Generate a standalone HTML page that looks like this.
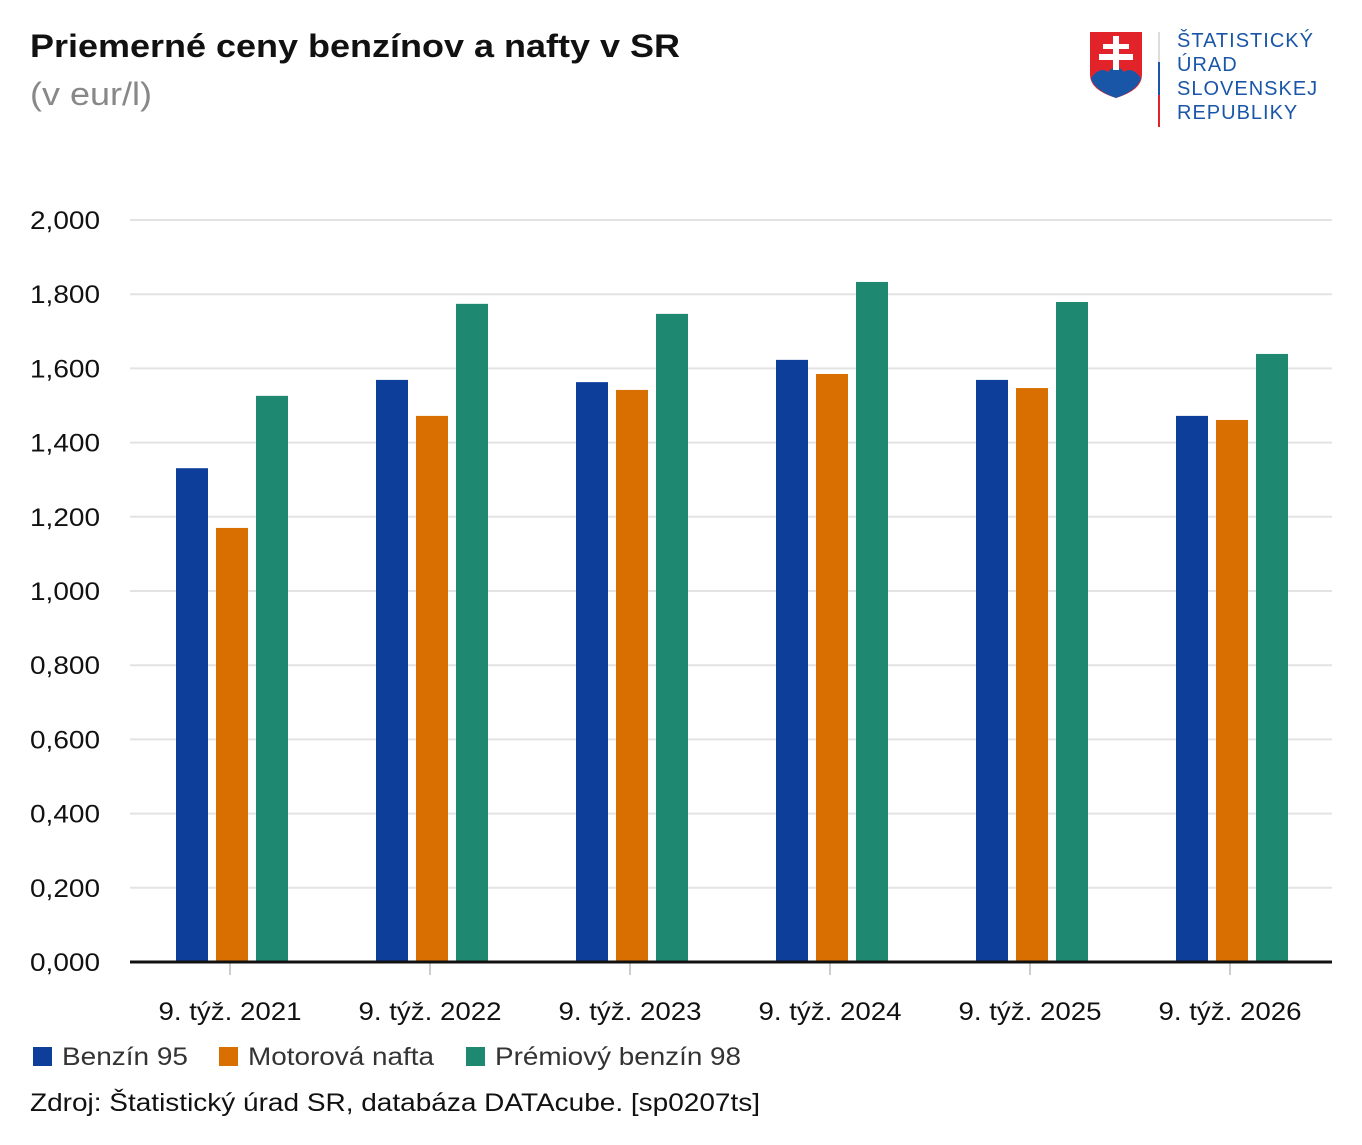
<!DOCTYPE html>
<html><head><meta charset="utf-8"><style>
body{margin:0;width:1362px;height:1140px;background:#fff;font-family:"Liberation Sans",sans-serif;overflow:hidden}
</style></head><body>
<svg width="1362" height="1140" xmlns="http://www.w3.org/2000/svg" font-family="Liberation Sans, sans-serif">
<text x="30" y="57" font-size="32" font-weight="bold" fill="#111" textLength="650" lengthAdjust="spacingAndGlyphs">Priemerné ceny benzínov a nafty v SR</text>
<text x="30" y="105" font-size="32" fill="#888" textLength="122" lengthAdjust="spacingAndGlyphs">(v eur/l)</text>
<g>
<path d="M1090 32 H1142 V75 Q1142 90 1116 98 Q1090 90 1090 75 Z" fill="#e2232a"/>
<path d="M1091 78 Q1100 66 1108 72 Q1116 62 1124 72 Q1132 66 1141 78 Q1138 90 1116 98 Q1094 90 1091 78 Z" fill="#1a56a8"/>
<rect x="1113" y="36" width="6" height="34" fill="#fff"/>
<rect x="1103" y="44" width="26" height="5" fill="#fff"/>
<rect x="1099" y="54" width="34" height="6" fill="#fff"/>
<rect x="1158" y="32" width="2" height="30" fill="#ddd"/>
<rect x="1158" y="62" width="2" height="33" fill="#1a56a8"/>
<rect x="1158" y="95" width="2" height="32" fill="#e2232a"/>
<g font-size="20" fill="#1a56a8" letter-spacing="1">
<text x="1177" y="47">ŠTATISTICKÝ</text><text x="1177" y="71">ÚRAD</text>
<text x="1177" y="95">SLOVENSKEJ</text><text x="1177" y="119">REPUBLIKY</text></g>
</g>
<g id="grid"></g><g id="bars"></g><g id="axis"></g>
<g font-size="25" fill="#333">
<rect x="33" y="1047" width="19" height="19" fill="#0d3f9a"/><text x="62" y="1065" textLength="126" lengthAdjust="spacingAndGlyphs">Benzín 95</text>
<rect x="219" y="1047" width="19" height="19" fill="#d96f00"/><text x="248" y="1065" textLength="186" lengthAdjust="spacingAndGlyphs">Motorová nafta</text>
<rect x="466" y="1047" width="19" height="19" fill="#1e8870"/><text x="495" y="1065" textLength="246" lengthAdjust="spacingAndGlyphs">Prémiový benzín 98</text>
</g>
<text x="30" y="1111" font-size="25" fill="#111" textLength="730" lengthAdjust="spacingAndGlyphs">Zdroj: Štatistický úrad SR, databáza DATAcube. [sp0207ts]</text>
</svg>
<script>
const categories=["9. týž. 2021","9. týž. 2022","9. týž. 2023","9. týž. 2024","9. týž. 2025","9. týž. 2026"];
const benzin95=[1.331,1.569,1.563,1.623,1.569,1.472];
const nafta=[1.170,1.472,1.542,1.585,1.547,1.461];
const premium98=[1.526,1.774,1.747,1.833,1.779,1.639];
const ticks=[0,0.2,0.4,0.6,0.8,1.0,1.2,1.4,1.6,1.8,2.0];
const NS="http://www.w3.org/2000/svg";
const y=v=>962-v*371, x=i=>230+i*200;
function mk(t,a,p){const e=document.createElementNS(NS,t);for(const k in a)e.setAttribute(k,a[k]);document.getElementById(p).appendChild(e);return e;}
ticks.forEach(t=>{
 const l=mk('line',{x1:130,x2:1332,y1:y(t),y2:y(t),stroke:'#e3e3e3','stroke-width':2},'grid');
 
 
 const tx=mk('text',{x:100,y:y(t)+9,'font-size':25,'text-anchor':'end',fill:'#111',textLength:70,lengthAdjust:'spacingAndGlyphs'},'axis');
 tx.textContent=Math.floor(t+1e-9)+','+t.toFixed(3).slice(2);
 
 
});
const series=[[benzin95,'#0d3f9a',-54],[nafta,'#d96f00',-14],[premium98,'#1e8870',26]];
categories.forEach((c,i)=>{
 series.forEach(([d,col,off])=>{
  const r=mk('rect',{x:x(i)+off,y:y(d[i]),width:32,height:962-y(d[i]),fill:col},'bars');
  
  
 });
 const tk=mk('line',{x1:x(i),x2:x(i),y1:962,y2:975,stroke:'#ccc','stroke-width':2},'axis');
 
 
 const t=mk('text',{x:x(i),y:1020,'font-size':25,'text-anchor':'middle',fill:'#111',textLength:143,lengthAdjust:'spacingAndGlyphs'},'axis');
 t.textContent=c;
 
 
});
const ax=mk('line',{x1:130,x2:1332,y1:962,y2:962,stroke:'#111','stroke-width':3},'axis');


</script>
</body></html>
